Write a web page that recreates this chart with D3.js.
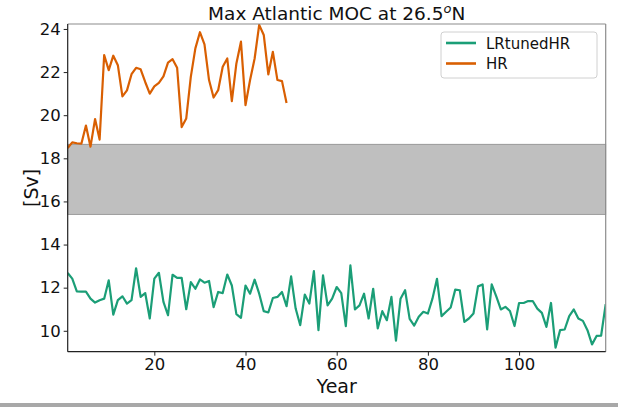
<!DOCTYPE html>
<html><head><meta charset="utf-8">
<script src="https://cdn.jsdelivr.net/npm/d3@7"></script>
<style>
body{margin:0;background:#fff;}
svg{display:block;font-family:"DejaVu Sans",sans-serif;}
</style></head>
<body>
<svg id="chart" width="618" height="407"></svg>
<script>
const seriesNames = ["LRtunedHR", "HR"];
const seriesColors = ["#1b9e77", "#d95f02"];
const lrValues = [12.68,12.42,11.83,11.82,11.82,11.49,11.31,11.42,11.49,12.34,
10.75,11.42,11.6,11.26,11.42,12.9,11.57,11.75,10.57,12.42,
12.69,11.34,10.72,12.6,12.45,12.45,11.0,12.26,11.95,12.38,
12.23,12.31,11.1,11.8,11.75,12.61,12.1,10.77,10.6,12.1,
11.72,12.37,11.72,10.91,10.85,11.52,11.57,11.8,11.14,12.52,
11.03,10.26,11.68,11.26,12.77,10.03,12.57,11.18,11.49,12.03,
11.75,10.22,13.03,10.99,11.18,11.72,10.57,11.95,10.11,10.91,
10.49,11.57,9.54,11.49,11.88,10.55,10.24,10.65,10.88,10.8,
11.49,12.41,10.68,10.88,11.08,11.91,11.88,10.41,10.57,10.8,
12.06,12.15,10.06,12.15,11.6,10.99,11.11,10.92,10.22,11.29,
11.29,11.38,11.38,11.03,10.83,10.18,11.29,9.22,10.03,10.06,
10.68,10.99,10.57,10.46,10.03,9.37,9.76,9.78,11.23];
const hrValues = [18.48,18.74,18.7,18.68,19.52,18.54,19.82,18.87,22.79,22.09,
22.76,22.32,20.87,21.15,21.9,22.2,22.13,21.54,21.0,21.34,
21.5,21.8,22.44,22.6,22.2,19.45,19.85,21.78,23.1,23.85,
23.29,21.63,20.82,21.16,22.25,22.63,20.65,22.4,23.41,20.47,
21.63,22.63,24.19,23.72,21.89,22.94,21.63,21.58,20.57];
const bandRange = [15.4, 18.65];
const xTicks = [20, 40, 60, 80, 100];
const yTicks = [10, 12, 14, 16, 18, 20, 22, 24];
const titleText = "Max Atlantic MOC at 26.5";
const xLabel = "Year";
const yLabel = "[Sv]";

const svg = d3.select("#chart");
const L = 67.7, R = 605.7, T = 24, B = 351.7;
const x = d3.scaleLinear().domain([1, 119]).range([L, R]);
const y = d3.scaleLinear().domain([9.03, 24.23]).range([B, T]);

// bottom gray bar
svg.append("rect").attr("x",0).attr("y",403).attr("width",618).attr("height",4).attr("fill","#a8a8a8");

// band
svg.append("rect").attr("x", L).attr("width", R - L)
  .attr("y", y(bandRange[1])).attr("height", y(bandRange[0]) - y(bandRange[1]))
  .attr("fill", "#bfbfbf").attr("stroke", "#8a8a8a").attr("stroke-width", 0.8);

const clip = svg.append("clipPath").attr("id","clip").append("rect")
  .attr("x", L).attr("y", T).attr("width", R-L).attr("height", B-T);

const line = d3.line().x((d,i)=>x(i+1)).y(d=>y(d));
const g = svg.append("g").attr("clip-path","url(#clip)");
g.append("path").datum(lrValues).attr("d", line).attr("fill","none")
  .attr("stroke", seriesColors[0]).attr("stroke-width", 2.2).attr("stroke-linejoin","round");
g.append("path").datum(hrValues).attr("d", line).attr("fill","none")
  .attr("stroke", seriesColors[1]).attr("stroke-width", 2.2).attr("stroke-linejoin","round");

// frame
svg.append("line").attr("x1",L).attr("x2",R).attr("y1",T).attr("y2",T).attr("stroke","#8c8c8c").attr("stroke-width",1.2);
svg.append("line").attr("x1",R).attr("x2",R).attr("y1",T).attr("y2",B).attr("stroke","#8c8c8c").attr("stroke-width",1.2);

const xAxis = svg.append("g").attr("transform",`translate(0,${B})`)
  .call(d3.axisBottom(x).tickValues(xTicks).tickSize(4).tickPadding(3).tickFormat(d3.format("d")));
const yAxis = svg.append("g").attr("transform",`translate(${L},0)`)
  .call(d3.axisLeft(y).tickValues(yTicks).tickSize(4).tickPadding(3).tickFormat(d3.format("d")));
[xAxis, yAxis].forEach(a=>{
  a.select(".domain").attr("stroke","#222").attr("stroke-width",1.2);
  a.selectAll(".tick line").attr("stroke","#222").attr("stroke-width",1);
  a.selectAll(".tick text").attr("font-size",16.5).attr("fill","#111")
   .attr("font-family","DejaVu Sans");
});
xAxis.select(".domain").attr("d",`M${L},0H${R}`);
yAxis.select(".domain").attr("d",`M0,${B}V${T}`);

// title
const t = svg.append("text").attr("x",(L+R)/2).attr("y",20).attr("text-anchor","middle")
  .attr("font-size",18.5).attr("fill","#111");
t.append("tspan").text(titleText);
t.append("tspan").attr("font-style","italic").attr("font-size",13).attr("dy",-7).text("o");
t.append("tspan").attr("dy",7).text("N");

svg.append("text").attr("x",(L+R)/2).attr("y",392.5).attr("text-anchor","middle")
  .attr("font-size",19).attr("fill","#111").text(xLabel);
svg.append("text").attr("transform",`translate(38,${(T+B)/2}) rotate(-90)`).attr("text-anchor","middle")
  .attr("font-size",19).attr("fill","#111").text(yLabel);

// legend
const lg = svg.append("g");
lg.append("rect").attr("x",441).attr("y",32).attr("width",156).attr("height",46).attr("rx",3)
  .attr("fill","#fff").attr("fill-opacity",0.8).attr("stroke","#d0d0d0");
seriesNames.forEach((n,i)=>{
  const yy = 43 + i*20.5;
  lg.append("line").attr("x1",446).attr("x2",476).attr("y1",yy).attr("y2",yy)
    .attr("stroke",seriesColors[i]).attr("stroke-width",2.6);
  lg.append("text").attr("x",486).attr("y",yy+5.5).attr("font-size",15).attr("fill","#111").text(n);
});
</script>
</body></html>
